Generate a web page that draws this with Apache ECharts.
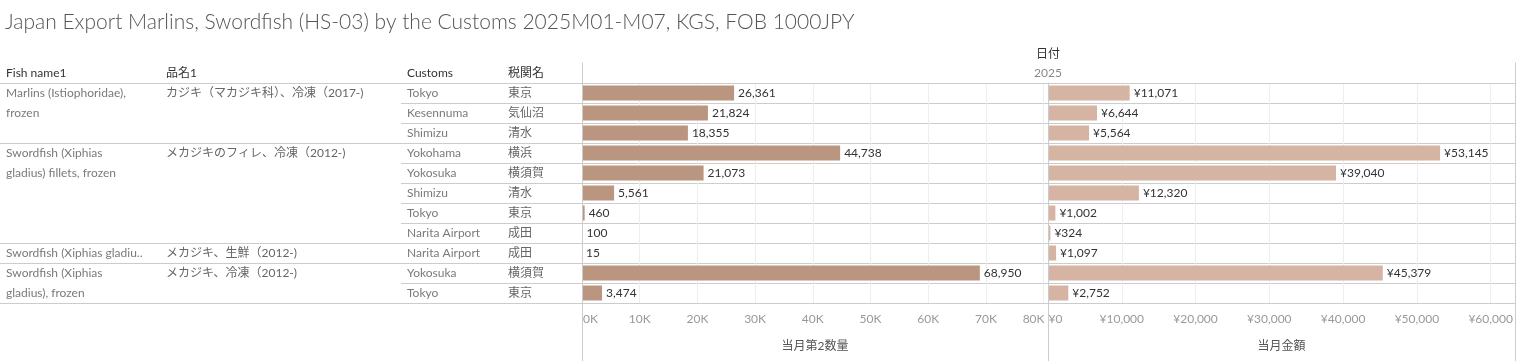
<!DOCTYPE html>
<html>
<head>
<meta charset="utf-8">
<script src="https://cdn.jsdelivr.net/npm/echarts@6/dist/echarts.min.js"></script>
<style>
html,body{margin:0;padding:0;background:#fff;}
#chart{width:1517px;height:361px;}
</style>
</head>
<body>
<div id="chart"></div>
<script>
// ---- data ----
const fishName1 = ['Marlins (Istiophoridae),\nfrozen', '', '', 'Swordfish (Xiphias\ngladius) fillets, frozen', '', '', '', '', 'Swordfish (Xiphias gladiu..', 'Swordfish (Xiphias\ngladius), frozen', ''];
const hinmei1 = ['カジキ（マカジキ科）、冷凍（2017-)', '', '', 'メカジキのフィレ、冷凍（2012-)', '', '', '', '', 'メカジキ、生鮮（2012-)', 'メカジキ、冷凍（2012-)', ''];
const customs = ['Tokyo', 'Kesennuma', 'Shimizu', 'Yokohama', 'Yokosuka', 'Shimizu', 'Tokyo', 'Narita Airport', 'Narita Airport', 'Yokosuka', 'Tokyo'];
const zeikanmei = ['東京', '気仙沼', '清水', '横浜', '横須賀', '清水', '東京', '成田', '成田', '横須賀', '東京'];
const groupStarts = [0, 3, 8, 9];
const quantity = [26361, 21824, 18355, 44738, 21073, 5561, 460, 100, 15, 68950, 3474];
const amount = [11071, 6644, 5564, 53145, 39040, 12320, 1002, 324, 1097, 45379, 2752];
const qtyTicks = [0, 10000, 20000, 30000, 40000, 50000, 60000, 70000, 80000];
const amtTicks = [0, 10000, 20000, 30000, 40000, 50000, 60000];
const headers = {fish: 'Fish name1', hin: '品名1', customs: 'Customs', zeikan: '税関名'};
const titleText = 'Japan Export Marlins, Swordfish (HS-03) by the Customs 2025M01-M07, KGS, FOB 1000JPY';
const dateHeader = '日付';
const yearLabel = '2025';
const qtyName = '当月第2数量';
const amtName = '当月金額';

// ---- styles ----
const FONT = 'Lato, "Noto Sans CJK JP", sans-serif';
const LINE = '#cccccc';
const GRIDC = '#eeeeee';
const rowIds = customs.map((_, i) => String(i));
const fmt = v => v.toLocaleString('en-US');

function labelAxis(grid, offset, arr, name, color, extra) {
  return Object.assign({
    type: 'category', gridIndex: grid, data: rowIds, inverse: true, position: 'left', offset: offset,
    axisLine: {show: false}, axisTick: {show: false}, splitLine: {show: false},
    axisLabel: {
      show: true, interval: 0, align: 'left', margin: 0, color: color, fontSize: 12,
      fontFamily: FONT, lineHeight: 20, hideOverlap: false,
      formatter: (v, i) => { const t = arr[i] || ''; return t.indexOf('\n') >= 0 ? '\n' + t : t; }
    },
    name: name, nameLocation: 'start', nameGap: 10, nameMoveOverlap: false,
    nameTextStyle: {align: 'left', verticalAlign: 'middle', color: '#333', fontSize: 12, fontFamily: FONT}
  }, extra || {});
}

const grids = [
  {left: 0, top: 83, width: 582, height: 220},
  {left: 401, top: 83, width: 181, height: 220},
  {left: 582, top: 83, width: 466, height: 220},
  {left: 1048, top: 83, width: 467, height: 220},
  {left: 582, top: 63, width: 933, height: 298},
  {left: 1048, top: 83, width: 467, height: 278}
].map(g => Object.assign({containLabel: false, outerBoundsMode: 'none'}, g));

function lineAxis(grid, pos) {
  return {type: 'value', gridIndex: grid, position: pos, min: 0, max: 1,
    axisLine: {show: true, lineStyle: {color: LINE}}, axisTick: {show: false},
    axisLabel: {show: false}, splitLine: {show: false}};
}
function borderAxis(grid, pos) {
  return {type: 'value', gridIndex: grid, position: pos, min: 0, max: 1, z: 5,
    axisLine: {show: true, onZero: false, lineStyle: {color: LINE}}, axisTick: {show: false},
    axisLabel: {show: false}, splitLine: {show: false}};
}

function valueAxis(grid, maxV, ticks, lab, name, minPad, maxPad) {
  const last = ticks[ticks.length - 1];
  return {
    type: 'value', gridIndex: grid, position: 'bottom', min: 0, max: maxV, interval: ticks[1] - ticks[0],
    axisLine: {show: true, lineStyle: {color: LINE}}, axisTick: {show: false},
    splitLine: {show: true, lineStyle: {color: GRIDC}},
    axisLabel: {
      show: true, margin: 10, color: '#999', fontSize: 12, fontFamily: FONT,
      formatter: v => {
        if (ticks.indexOf(v) < 0) return '';
        if (v === 0) return '{a|' + lab(v) + '}';
        if (v === last && maxPad) return '{b|' + lab(v) + '}';
        return lab(v);
      },
      rich: {
        a: {padding: [0, 0, 0, minPad], color: '#999', fontSize: 12, fontFamily: FONT},
        b: {padding: [0, maxPad, 0, 0], color: '#999', fontSize: 12, fontFamily: FONT}
      }
    },
    name: name, nameLocation: 'middle', nameGap: 37,
    nameTextStyle: {color: '#555', fontSize: 12, fontFamily: FONT}
  };
}

const option = {
  animation: false,
  backgroundColor: '#fff',
  textStyle: {fontFamily: FONT},
  title: {text: titleText, left: 0, top: 7,
    textStyle: {fontSize: 21, fontWeight: 300, color: '#555', fontFamily: FONT}},
  grid: grids,
  xAxis: [
    lineAxis(0, 'bottom'), lineAxis(0, 'top'),
    lineAxis(1, 'bottom'),
    valueAxis(2, 80763, qtyTicks, v => (v / 1000) + 'K', qtyName, 17, 20),
    lineAxis(2, 'top'),
    valueAxis(3, 63300, amtTicks, v => '¥' + fmt(v), amtName, 15, 0),
    lineAxis(3, 'top'),
    {type: 'value', gridIndex: 4, min: 0, max: 1, show: false},
    {type: 'value', gridIndex: 5, min: 0, max: 1, show: false}
  ],
  yAxis: [
    labelAxis(0, -6, fishName1, headers.fish, '#7a7a7a', {
      splitLine: {show: true, interval: (i) => groupStarts.indexOf(i) >= 0, lineStyle: {color: LINE}}
    }),
    labelAxis(0, -166, hinmei1, headers.hin, '#666'),
    labelAxis(1, -6, customs, headers.customs, '#7a7a7a', {
      splitLine: {show: true, interval: 0, lineStyle: {color: LINE}}
    }),
    labelAxis(1, -107, zeikanmei, headers.zeikan, '#666'),
    {type: 'category', gridIndex: 2, data: rowIds, inverse: true,
      axisLine: {show: false}, axisTick: {show: false}, axisLabel: {show: false},
      splitLine: {show: true, interval: 0, lineStyle: {color: LINE}}},
    {type: 'category', gridIndex: 3, data: rowIds, inverse: true,
      axisLine: {show: false}, axisTick: {show: false}, axisLabel: {show: false},
      splitLine: {show: true, interval: 0, lineStyle: {color: LINE}}},
    borderAxis(4, 'left'), borderAxis(4, 'right'),
    borderAxis(5, 'left')
  ],
  series: [
    {type: 'bar', xAxisIndex: 3, yAxisIndex: 4, data: quantity, barWidth: 15, z: 3,
      itemStyle: {color: '#ba9580'},
      label: {show: true, position: 'right', distance: 4, color: '#333', fontSize: 12, fontFamily: FONT,
        formatter: p => fmt(p.value)}},
    {type: 'bar', xAxisIndex: 5, yAxisIndex: 5, data: amount, barWidth: 15, z: 3,
      itemStyle: {color: '#d6b4a4'},
      label: {show: true, position: 'right', distance: 4, color: '#333', fontSize: 12, fontFamily: FONT,
        formatter: p => '¥' + fmt(p.value)}}
  ],
  graphic: [
    {type: 'text', x: 1048, y: 54, style: {text: dateHeader, align: 'center', verticalAlign: 'middle',
      fill: '#333', fontSize: 12, fontFamily: FONT}},
    {type: 'text', x: 1048, y: 73, style: {text: yearLabel, align: 'center', verticalAlign: 'middle',
      fill: '#888', fontSize: 12, fontFamily: FONT}}
  ]
};

const chart = echarts.init(document.getElementById('chart'), null, {renderer: 'canvas'});
chart.setOption(option);
</script>
</body>
</html>
